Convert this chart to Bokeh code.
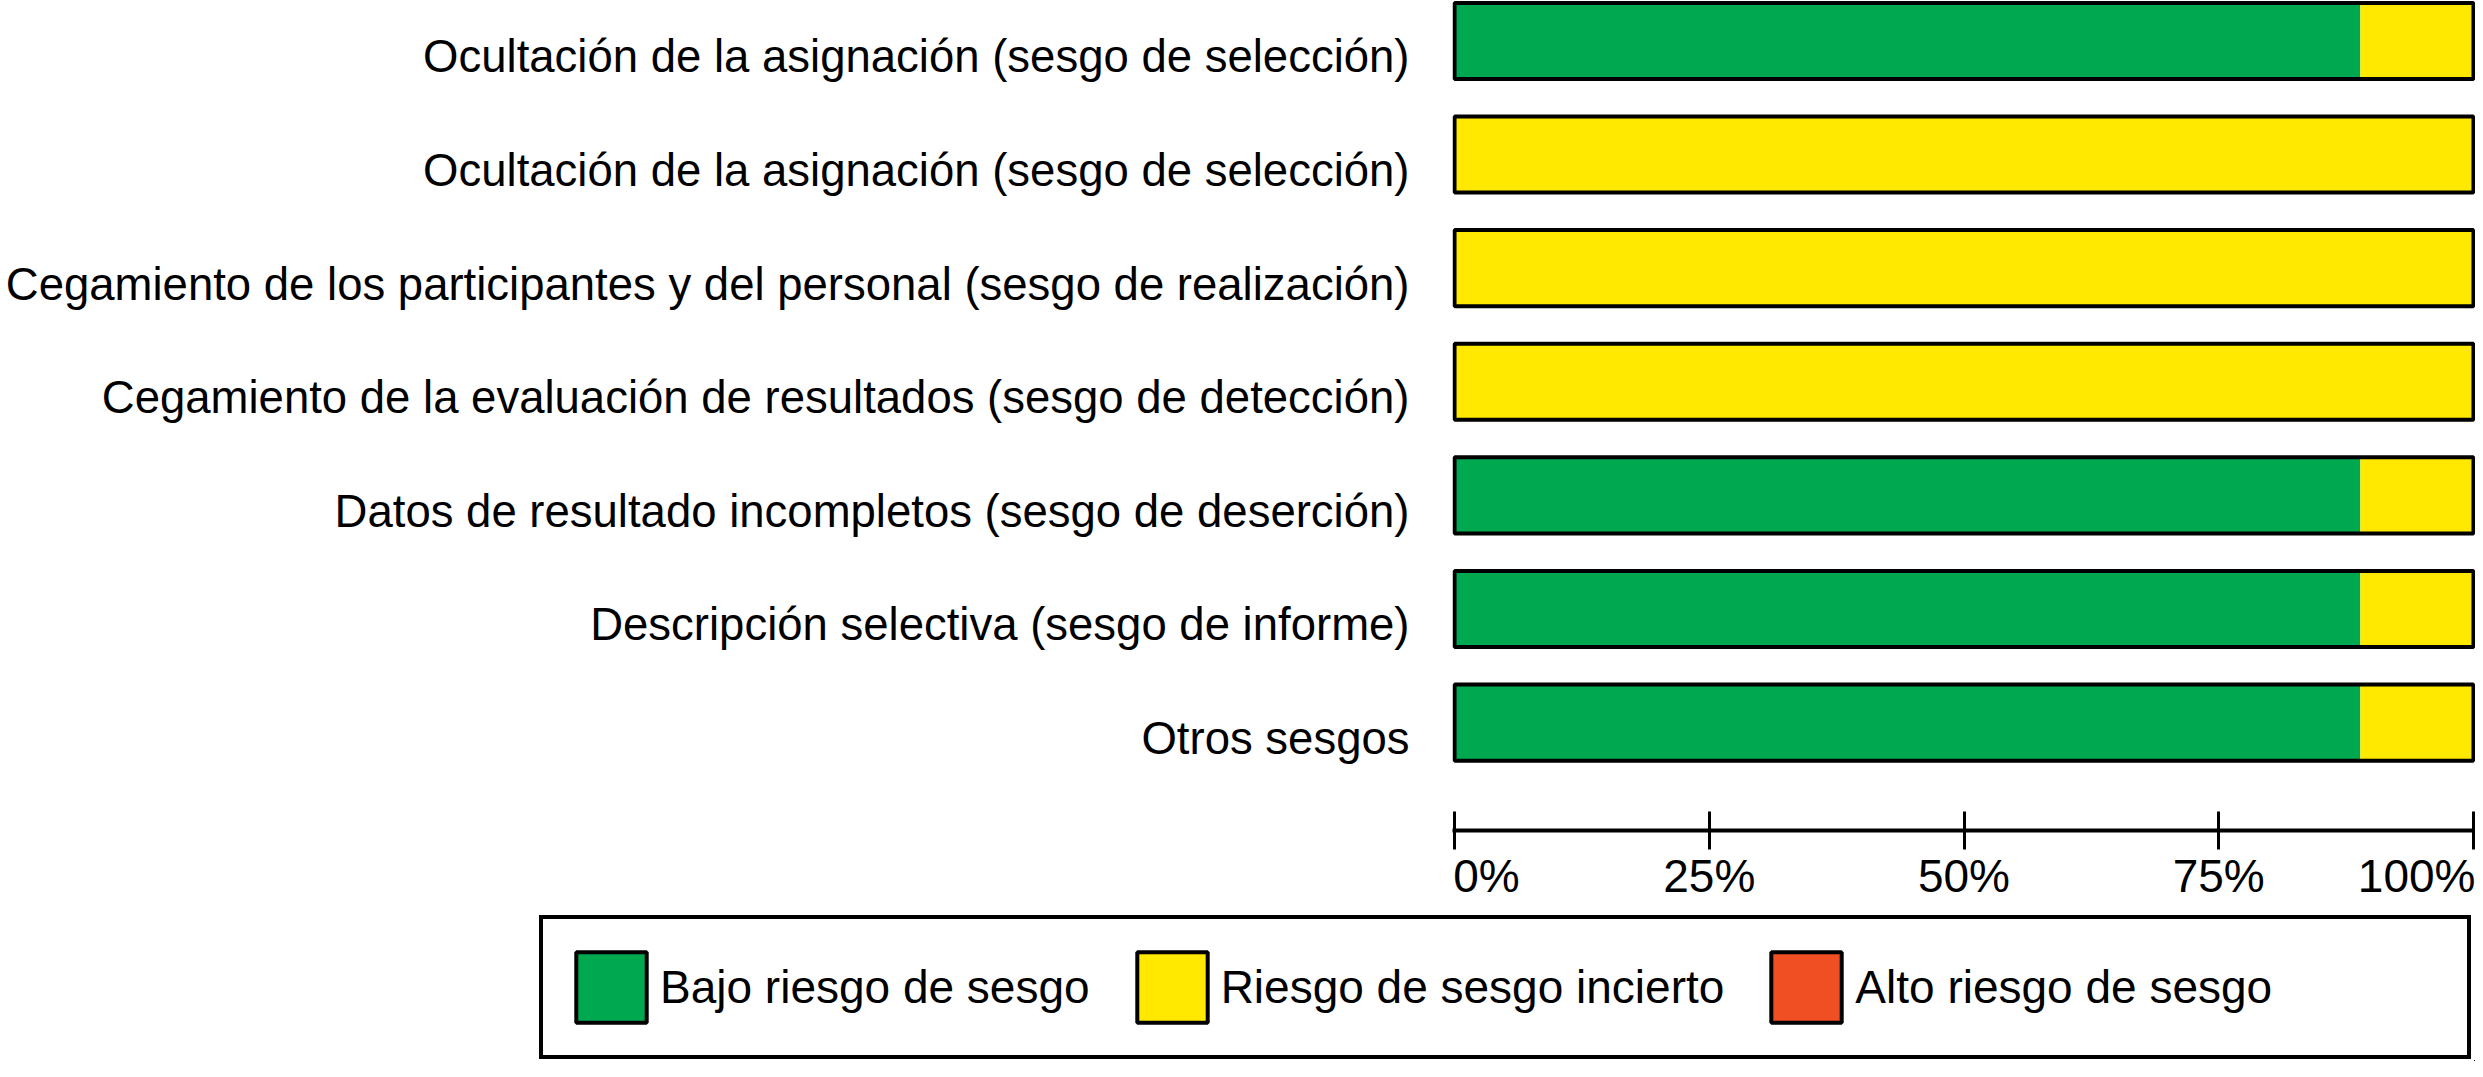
from bokeh.plotting import figure
from bokeh.models import ColumnDataSource, Range1d, FixedTicker
from bokeh.layouts import column, row
from bokeh.embed import file_html
from bokeh.resources import INLINE

# ---------------- data ----------------
categories = [
    "Ocultación de la asignación (sesgo de selección)",
    "Ocultación de la asignación (sesgo de selección)",
    "Cegamiento de los participantes y del personal (sesgo de realización)",
    "Cegamiento de la evaluación de resultados (sesgo de detección)",
    "Datos de resultado incompletos (sesgo de deserción)",
    "Descripción selectiva (sesgo de informe)",
    "Otros sesgos",
]
bajo = [88.9, 0, 0, 0, 88.9, 88.9, 88.9]
incierto = [11.1, 100, 100, 100, 11.1, 11.1, 11.1]
alto = [0, 0, 0, 0, 0, 0, 0]
series_keys = ["bajo", "incierto", "alto"]
series_names = ["Bajo riesgo de sesgo", "Riesgo de sesgo incierto", "Alto riesgo de sesgo"]
series_colors = ["#00A84F", "#FFE900", "#F04E23"]
x_ticks = [0, 25, 50, 75, 100]
x_tick_labels = ["0%", "25%", "50%", "75%", "100%"]

FONT = "Liberation Sans"
PITCH = 100
ypos = [i * PITCH for i in range(len(categories))]
total = [b + u + a for b, u, a in zip(bajo, incierto, alto)]
source = ColumnDataSource(dict(y=ypos, bajo=bajo, incierto=incierto, alto=alto, total=total))

W = 2475
H_MAIN = 910
H_LEG = 151

p = figure(width=W, height=H_MAIN, output_backend="svg", toolbar_location=None,
           x_range=Range1d(-0.2, 100.2), y_range=Range1d(695.0, -35.6),
           min_border_left=1452, min_border_right=0, min_border_top=0,
           min_border_bottom=H_MAIN - 830)
p.outline_line_color = None
p.xgrid.grid_line_color = None
p.ygrid.grid_line_color = None
p.background_fill_color = "white"
p.border_fill_color = "white"

BAR_H = 67
# stacked bars (fill only, no inner boundary lines)
p.hbar_stack(series_keys, y="y", height=BAR_H, fill_color=series_colors,
             line_color=None, source=source)
# outer outline of whole bar
p.hbar(y="y", left=0, right="total", height=BAR_H, fill_color=None,
       line_color="black", line_width=4, source=source)

# x axis
xa = p.xaxis[0]
xa.ticker = FixedTicker(ticks=x_ticks)
disp = list(x_tick_labels)
disp[0] = "\u2007\u2007\u2008" + disp[0]
xa.major_label_overrides = {t: l for t, l in zip(x_ticks, disp)}
xa.axis_line_width = 4
xa.axis_line_color = "black"
xa.major_tick_line_width = 3
xa.major_tick_line_color = "black"
xa.major_tick_in = 19
xa.major_tick_out = 19
xa.minor_tick_line_color = None
xa.major_label_standoff = 0
xa.major_label_text_font = FONT
xa.major_label_text_font_size = "46px"
xa.major_label_text_color = "black"

# y axis
ya = p.yaxis[0]
label_ticks = [y + 14 for y in ypos]
ya.ticker = FixedTicker(ticks=label_ticks)
ya.major_label_overrides = {t: c for t, c in zip(label_ticks, categories)}
ya.axis_line_color = None
ya.major_tick_line_color = None
ya.major_tick_in = 0
ya.major_tick_out = 0
ya.minor_tick_line_color = None
ya.major_label_standoff = 43
ya.major_label_text_font = FONT
ya.major_label_text_font_size = "45.5px"
ya.major_label_text_color = "black"

# ---------------- legend strip ----------------
pl = figure(width=W, height=H_LEG, output_backend="svg", toolbar_location=None,
            x_range=Range1d(-300, -200), y_range=Range1d(2000, 2100),
            x_axis_location=None, y_axis_location=None, min_border=0,
            min_border_left=0, min_border_right=0, min_border_top=0, min_border_bottom=0)
pl.outline_line_color = None
pl.xgrid.grid_line_color = None
pl.ygrid.grid_line_color = None
pl.background_fill_color = "white"
pl.border_fill_color = "white"
# same series, out of view; only their legend entries are shown
pl.hbar_stack(series_keys, y="y", height=BAR_H, fill_color=series_colors,
              line_color="black", line_width=4, source=source,
              legend_label=series_names)

lg = pl.legend[0]
lg.orientation = "horizontal"
lg.location = (539, 2)
lg.glyph_width = 88
lg.glyph_height = 88
lg.label_height = 88
lg.label_width = 20
lg.label_standoff = 5
lg.spacing = 38
lg.padding = 24
lg.margin = 0
# blank title on the right only widens the box to the reference's extent
lg.title = "\u2007"
lg.title_location = "right"
lg.title_standoff = 160
lg.title_text_font_size = "10px"
lg.border_line_color = "black"
lg.border_line_alpha = 1.0
lg.border_line_width = 4
lg.background_fill_color = "white"
lg.background_fill_alpha = 1.0
lg.label_text_font = FONT
lg.label_text_font_size = "46px"
lg.label_text_color = "black"

layout = column(p, row(pl), spacing=0)
open("out.html", "w").write(file_html(layout, INLINE))
